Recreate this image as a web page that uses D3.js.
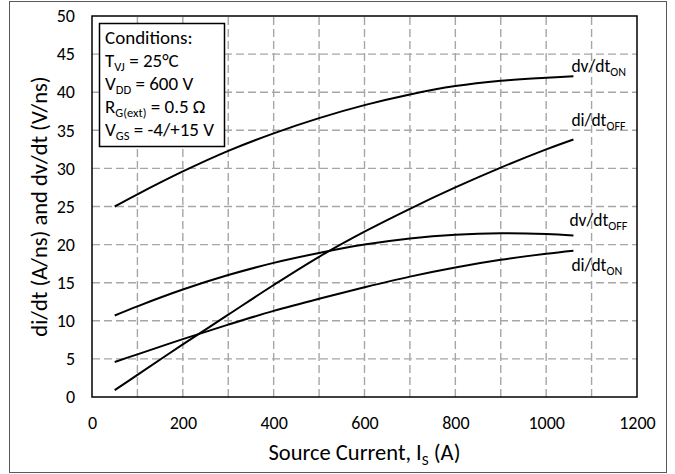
<!DOCTYPE html>
<html>
<head>
<meta charset="utf-8">
<script src="https://cdn.jsdelivr.net/npm/d3@7"></script>
<style>
  body { margin: 0; background: #fff; }
  text { font-family: Carlito, Lato, "Open Sans", sans-serif; fill: #000; }
</style>
</head>
<body>
<div id="chart"></div>
<script>
// source current (A)
const current = [50, 100, 200, 300, 400, 500, 600, 700, 800, 900, 1000, 1060];
// series values
const dvdtOn = [25.0, 26.6, 29.6, 32.3, 34.6, 36.6, 38.3, 39.7, 40.8, 41.5, 41.9, 42.1];
const didtOff = [0.9, 2.9, 6.9, 10.8, 14.7, 18.4, 21.7, 24.7, 27.5, 30.1, 32.5, 33.8];
const dvdtOff = [10.7, 11.9, 14.1, 16.0, 17.6, 18.9, 20.0, 20.8, 21.3, 21.5, 21.4, 21.2];
const didtOn = [4.6, 5.6, 7.6, 9.5, 11.3, 12.9, 14.4, 15.8, 17.0, 18.0, 18.8, 19.2];

const xTicks = [0, 200, 400, 600, 800, 1000, 1200];
const yTicks = [0, 5, 10, 15, 20, 25, 30, 35, 40, 45, 50];
const xGrid = d3.range(0, 1201, 100);

const seriesLabels = [
  { name: 'dv/dt', sub: 'ON', values: dvdtOn, dx: -2, dy: -4 },
  { name: 'di/dt', sub: 'OFF', values: didtOff, dx: -2, dy: -13 },
  { name: 'dv/dt', sub: 'OFF', values: dvdtOff, dx: -4, dy: -9 },
  { name: 'di/dt', sub: 'ON', values: didtOn, dx: -2, dy: 20 }
];

const conditions = [
  [['Conditions:', '']],
  [['T', ''], ['VJ', 'sub'], [' = 25°C', '']],
  [['V', ''], ['DD', 'sub'], [' = 600 V', '']],
  [['R', ''], ['G(ext)', 'sub'], [' = 0.5 Ω', '']],
  [['V', ''], ['GS', 'sub'], [' = -4/+15 V', '']]
];

const width = 675, height = 474;
const margin = { top: 16, right: 38, bottom: 77, left: 92 };

const svg = d3.select('#chart').append('svg')
  .attr('width', width).attr('height', height);

// outer frame
svg.append('rect')
  .attr('x', 9.5).attr('y', 1.5)
  .attr('width', 657).attr('height', 471)
  .attr('fill', 'none').attr('stroke', '#595959').attr('stroke-width', 1);

const x = d3.scaleLinear().domain([0, 1200]).range([margin.left, width - margin.right]);
const y = d3.scaleLinear().domain([0, 50]).range([height - margin.bottom, margin.top]);

// grid
const grid = svg.append('g')
  .attr('stroke', '#a6a6a6').attr('stroke-width', 1.4).attr('stroke-dasharray', '8,4');
grid.selectAll('.vg').data(xGrid.slice(1, -1)).enter().append('line')
  .attr('x1', d => x(d)).attr('x2', d => x(d))
  .attr('y1', y(0)).attr('y2', y(50));
grid.selectAll('.hg').data(yTicks.slice(1, -1)).enter().append('line')
  .attr('x1', x(0)).attr('x2', x(1200))
  .attr('y1', d => y(d)).attr('y2', d => y(d));

// axes (labels only, no tick marks)
const xAxis = svg.append('g')
  .attr('transform', `translate(0,${y(0)})`)
  .call(d3.axisBottom(x).tickValues(xTicks).tickFormat(d3.format('d')).tickSize(0).tickPadding(19));
const yAxis = svg.append('g')
  .attr('transform', `translate(${x(0)},0)`)
  .call(d3.axisLeft(y).tickValues(yTicks).tickSize(0).tickPadding(17));
[xAxis, yAxis].forEach(a => {
  a.select('.domain').remove();
  a.selectAll('text').attr('font-size', 18).style('font-family', 'Carlito, Lato, sans-serif');
});

// curves
const line = d3.line()
  .x((d, i) => x(current[i]))
  .y(d => y(d))
  .curve(d3.curveCatmullRom.alpha(0.5));

svg.append('g').selectAll('path').data(seriesLabels).enter().append('path')
  .attr('d', d => line(d.values))
  .attr('fill', 'none').attr('stroke', '#000').attr('stroke-width', 2);

// curve labels
const lbl = svg.append('g').selectAll('text').data(seriesLabels).enter().append('text')
  .attr('x', d => x(current[current.length - 1]) + d.dx)
  .attr('y', d => y(d.values[d.values.length - 1]) + d.dy)
  .attr('font-size', 17.5);
lbl.append('tspan').text(d => d.name);
lbl.append('tspan').attr('font-size', 12).attr('dy', 4).text(d => d.sub);

// plot border
svg.append('rect')
  .attr('x', x(0)).attr('y', y(50))
  .attr('width', x(1200) - x(0)).attr('height', y(0) - y(50))
  .attr('fill', 'none').attr('stroke', '#000').attr('stroke-width', 1.5);

// conditions box
svg.append('rect')
  .attr('x', 99.5).attr('y', 23.5).attr('width', 125).attr('height', 123)
  .attr('fill', '#fff').attr('stroke', '#000').attr('stroke-width', 1.5);
conditions.forEach((parts, i) => {
  const t = svg.append('text')
    .attr('x', 105).attr('y', 44 + i * 23)
    .attr('font-size', 19);
  parts.forEach(([s, kind], j) => {
    if (kind === 'sub') {
      t.append('tspan').attr('font-size', 12.5).attr('dy', 4).text(s);
    } else {
      const ts = t.append('tspan').text(s);
      if (j > 0) ts.attr('dy', -4);
    }
  });
});

// axis titles
const xt = svg.append('text')
  .attr('x', (x(0) + x(1200)) / 2).attr('y', 460)
  .attr('text-anchor', 'middle').attr('font-size', 22.5);
xt.append('tspan').text('Source Current, I');
xt.append('tspan').attr('font-size', 15).attr('dy', 5).text('S');
xt.append('tspan').attr('dy', -5).text(' (A)');

svg.append('text')
  .attr('transform', `translate(47,${(y(0) + y(50)) / 2}) rotate(-90)`)
  .attr('text-anchor', 'middle').attr('font-size', 22.5)
  .text('di/dt (A/ns) and dv/dt (V/ns)');
</script>
</body>
</html>
